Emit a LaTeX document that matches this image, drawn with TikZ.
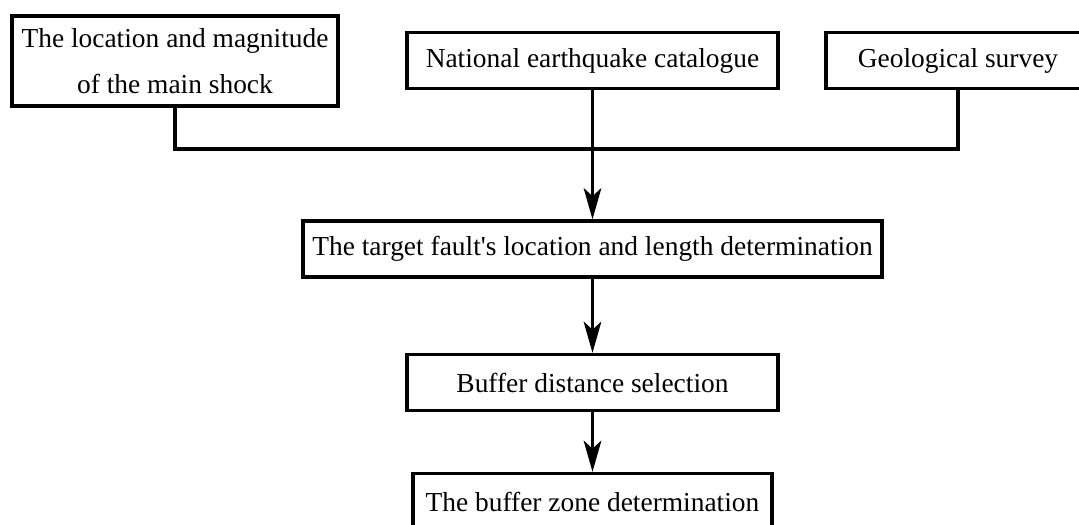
\documentclass[tikz,border=0pt]{standalone}
\usepackage{fontspec}
\setmainfont{Liberation Serif}
\usetikzlibrary{arrows.meta}

\begin{document}
\begin{tikzpicture}[x=0.025cm, y=-0.025cm,
  font=\fontsize{19.5}{33}\selectfont,
  box/.style={draw, line width=2.3pt, align=center, inner sep=0pt, minimum height=1.4cm},
  link/.style={line width=2.3pt},
  flow/.style={line width=2.3pt, -{Stealth[length=0.78cm, width=0.44cm, inset=0.2cm]}}]
\useasboundingbox (0,0) rectangle (1079,525);
% sources
\node[box, minimum width=8.15cm, minimum height=2.25cm] (shock) at (175,61) {The location and magnitude\\of the main shock};
\node[box, minimum width=9.275cm] (catalogue) at (592.5,60.5) {National earthquake catalogue};
\node[box, minimum width=6.6cm] (survey) at (958,60.5) {Geological survey};
\coordinate (merge) at (592.5,149);
% steps
\node[box, minimum width=14.475cm] (fault) at (592.5,249) {The target fault\textquotesingle s location and length determination};
\node[box, minimum width=9.275cm] (distance) at (592.5,382.5) {Buffer distance selection};
\node[box, minimum width=8.975cm] (zone) at (592.5,501.5) {The buffer zone determination};
\draw[link] (shock.south) |- (merge) -| (survey.south);
\draw[flow] (catalogue.south) -- (fault.north);
\draw[flow] (fault.south) -- (distance.north);
\draw[flow] (distance.south) -- (zone.north);
\end{tikzpicture}
\end{document}
